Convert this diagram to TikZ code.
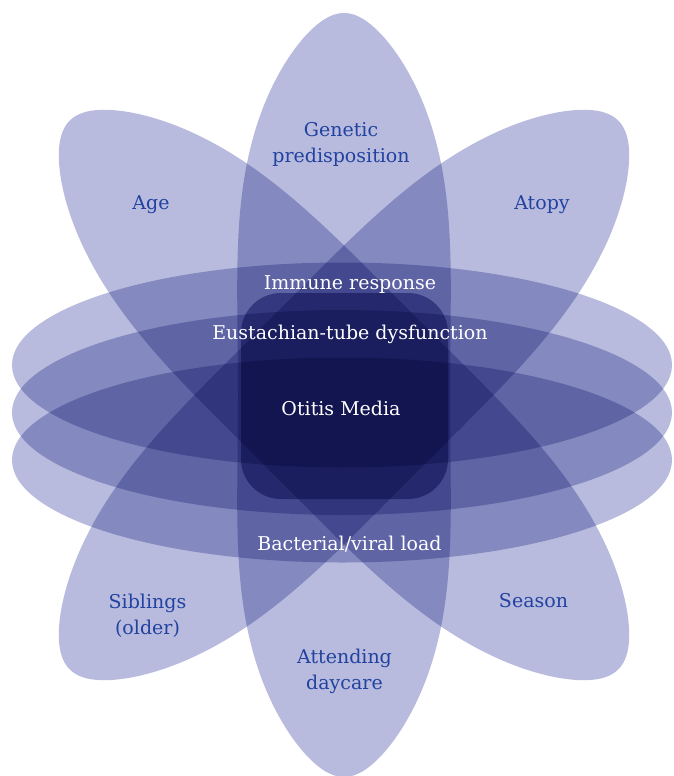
\documentclass[tikz,border=0pt]{standalone}
\usepackage{fontspec}
\setmainfont{DejaVu Serif}
\begin{document}
\begin{tikzpicture}[x=1pt,y=-1pt]
\definecolor{petal}{RGB}{184,187,221}
\definecolor{core}{RGB}{140,143,196}
\definecolor{lbl}{RGB}{33,66,160}
\tikzset{
  lab/.style={text=lbl, font=\fontsize{19}{26}\selectfont, align=center, inner sep=0pt, anchor=base},
  inlab/.style={text=white, font=\fontsize{19}{26}\selectfont, align=center, inner sep=0pt, anchor=base},
  petalfill/.style={fill=petal, draw=none},
}
\useasboundingbox (0,0) rectangle (674,776);
\begin{scope}[blend group=multiply]
  \foreach \ang/\len/\bul in {0/382/1.4,45/388/1.1,-45/388/1.1} {
    \fill[petalfill, shift={(344,395)}, rotate=\ang]
      plot[domain=0:360, samples=181, variable=\p, smooth]
        ({106*cos(\p)*sqrt(1+\bul*(sin(\p)*cos(\p))^2)}, {\len*sin(\p)}) -- cycle;
  }
  \foreach \cy in {365,412.5,460} {
    \fill[petalfill] (342,\cy) ellipse [x radius=330pt, y radius=102.5pt];
  }
  \fill[fill=core, rounded corners=40pt] (241,293) rectangle (448,499);
\end{scope}
\node[lab] (gen) at (341,162) {Genetic\\predisposition};
\node[lab] (age) at (151,209) {Age};
\node[lab] (atopy) at (542,209) {Atopy};
\node[inlab] (imm) at (350,289) {Immune response};
\node[inlab] (eus) at (350,339) {Eustachian-tube dysfunction};
\node[inlab] (om) at (341,415.7) {Otitis Media};
\node[inlab] (bac) at (349.5,550) {Bacterial/viral load};
\node[lab] (sib) at (147.5,634) {Siblings\\(older)};
\node[lab] (sea) at (533.5,607) {Season};
\node[lab] (att) at (344.5,689) {Attending\\daycare};
\end{tikzpicture}
\end{document}
